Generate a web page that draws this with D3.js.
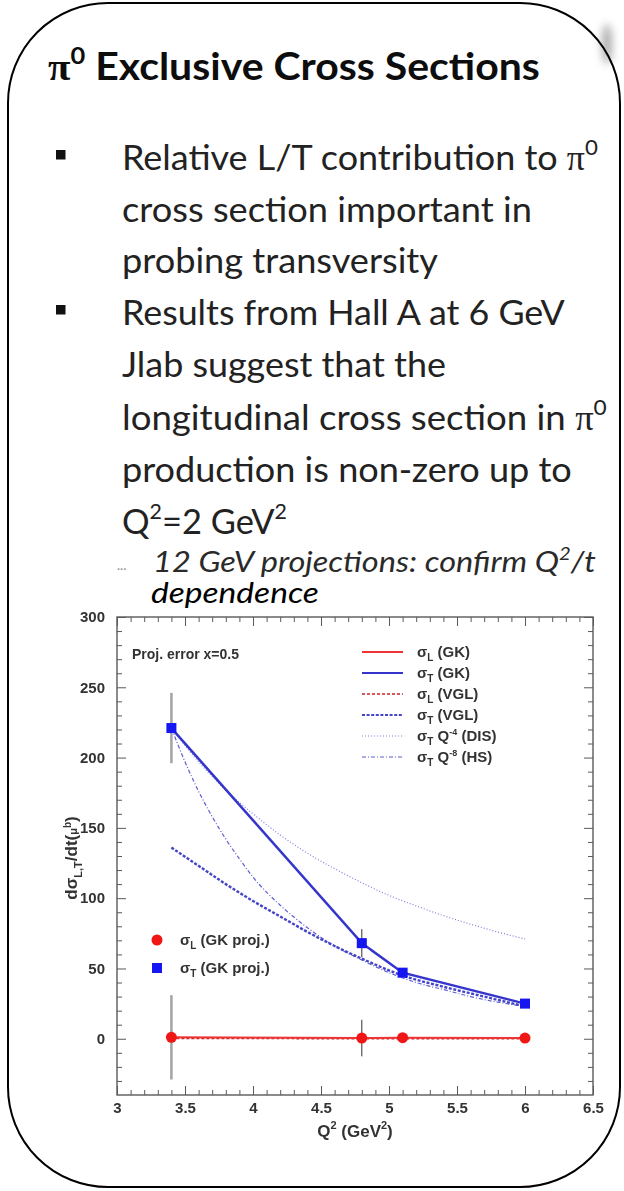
<!DOCTYPE html>
<html>
<head>
<meta charset="utf-8">
<script src="https://cdn.jsdelivr.net/npm/d3@7"></script>
<style>
  html, body { margin: 0; padding: 0; background: #fff; }
  svg { display: block; }
</style>
</head>
<body>
<svg id="slide" width="624" height="1191"></svg>
<script>
// ---------------- slide text ----------------
const titleText = "π^{0} Exclusive Cross Sections";
const bullet1Lines = ["Relative L/T contribution to π^{0}", "cross section important in", "probing transversity"];
const bullet2Lines = ["Results from Hall A at 6 GeV", "Jlab suggest that the", "longitudinal cross section in π^{0}",
                      "production is non-zero up to", "Q^{2}=2 GeV^{2}"];
const noteLines = ["12 GeV projections: confirm Q^{2}/t", "dependence"];

// ---------------- chart data ----------------
// GK projections at x = 0.5
const q2Proj = [3.4, 4.8, 5.1, 6.0];
const sigTProj = [221, 68, 47, 25];
const sigTProjErr = [25, 10, 1.5, 1.5];
const sigLProj = [1.0, 0.5, 0.8, 0.5];
const sigLProjErr = [30, 13, 1, 1];

// VGL model curves
const q2Vgl = [3.4, 3.6, 3.8, 4.0, 4.2, 4.4, 4.6, 4.8, 5.1, 5.4, 5.7, 6.0];
const sigTVgl = [136, 123, 110, 98, 87, 76, 66, 57, 45, 37, 30, 23];
const q2VglL = [3.4, 4.8, 5.1, 6.0];
const sigLVgl = [0.2, 0.1, 0.1, 0.1];

// sigma_T scaled as Q^-4 (DIS)
const q2Dis = [3.4, 3.6, 3.8, 4.0, 4.2, 4.4, 4.6, 4.8, 5.0, 5.2, 5.4, 5.6, 5.8, 6.0];
const sigTDis = [221, 197, 177, 160, 145, 132, 121, 111, 102, 94.5, 87.6, 81.5, 75.9, 71];

// sigma_T scaled as Q^-8 (HS)
const q2Hs = [3.4, 3.5, 3.6, 3.7, 3.8, 3.9, 4.0, 4.2, 4.4, 4.6, 4.8, 5.0, 5.2, 5.4, 5.6, 5.8, 6.0];
const sigTHs = [221, 197, 176, 158, 142, 128, 115, 95, 79, 66, 56, 47, 40, 35, 30, 26, 23];

// axes
const xTickValues = [3, 3.5, 4, 4.5, 5, 5.5, 6, 6.5];
const xTickLabels = ["3", "3.5", "4", "4.5", "5", "5.5", "6", "6.5"];
const yTickValues = [0, 50, 100, 150, 200, 250, 300];
const yTickLabels = ["0", "50", "100", "150", "200", "250", "300"];

// legends
const curveLegendSub = ["L", "T", "L", "T", "T", "T"];
const curveLegendPower = ["", "", "", "", "-4", "-8"];
const curveLegendTag = ["(GK)", "(GK)", "(VGL)", "(VGL)", "(DIS)", "(HS)"];
const projLegendSub = ["L", "T"];
const projLegendTag = ["(GK proj.)", "(GK proj.)"];

// ---------------- drawing ----------------
const svg = d3.select("#slide");
const defs = svg.append("defs");
defs.append("filter").attr("id", "smudge").attr("x", "-3").attr("y", "-3").attr("width", "7").attr("height", "7")
  .append("feGaussianBlur").attr("stdDeviation", 4);
defs.append("filter").attr("id", "soft")
  .append("feGaussianBlur").attr("stdDeviation", 0.45);

svg.append("rect").attr("width", 624).attr("height", 1191).attr("fill", "#fff");

// slide frame with its shadow smear
svg.append("ellipse").attr("cx", 607).attr("cy", 44).attr("rx", 5).attr("ry", 20)
  .attr("fill", "#555").attr("opacity", 0.5).attr("filter", "url(#smudge)");
svg.append("rect").attr("x", 8).attr("y", 3).attr("width", 612).attr("height", 1184)
  .attr("rx", 100).attr("ry", 100).attr("fill", "none").attr("stroke", "#000").attr("stroke-width", 2);

const SANS = "Lato, 'Open Sans', sans-serif";
const SERIF = "'Liberation Serif', 'DejaVu Serif', serif";

// text with ^{..} superscripts and a serif pi; stretched to a given width
function richLine(parent, str, opt) {
  const t = parent.append("text")
    .attr("font-family", SANS)
    .attr("font-size", opt.size)
    .attr("font-weight", opt.weight || "normal")
    .attr("font-style", opt.italic ? "italic" : "normal")
    .attr("fill", opt.color || "#222");
  const parts = str.split(/(\^\{[^}]*\})/).filter(s => s.length);
  const lift = opt.size * 0.42;
  let raised = false;
  parts.forEach(p => {
    if (p.startsWith("^{")) {
      t.append("tspan").attr("font-size", opt.size * 0.62).attr("dy", -lift).text(p.slice(2, -1));
      raised = true;
    } else {
      p.split(/(π)/).filter(s => s.length).forEach(q => {
        const sp = t.append("tspan").text(q);
        if (q === "π") sp.attr("font-family", SERIF).attr("font-style", "normal");
        if (raised) { sp.attr("dy", lift); raised = false; }
      });
    }
  });
  const w = t.node().getComputedTextLength();
  const sx = opt.width ? opt.width / w : 1;
  t.attr("transform", `translate(${opt.x},${opt.y}) scale(${sx},1)`);
  return t;
}

const textLayer = svg.append("g");
richLine(textLayer, titleText, { x: 48, y: 80, width: 492, size: 38, weight: "bold", color: "#0d0d0d" });

const b1Base = [170, 222, 273], b1Right = [598, 532, 438];
bullet1Lines.forEach((s, i) => richLine(textLayer, s, { x: 122, y: b1Base[i], width: b1Right[i] - 122, size: 35 }));
const b2Base = [325, 377, 430, 482, 534], b2Right = [565, 446, 607, 572, 287];
bullet2Lines.forEach((s, i) => richLine(textLayer, s, { x: 122, y: b2Base[i], width: b2Right[i] - 122, size: 35 }));

[b1Base[0], b2Base[0]].forEach(base => textLayer.append("rect").attr("x", 56).attr("y", base - 20)
  .attr("width", 9.5).attr("height", 9.5).attr("fill", "#111"));

const nBase = [572, 603], nLeft = [153, 151], nRight = [596, 319];
noteLines.forEach((s, i) => richLine(textLayer, s, { x: nLeft[i], y: nBase[i], width: nRight[i] - nLeft[i],
  size: 28, italic: true, color: i === 0 ? "#2a2a2a" : "#000" }));
textLayer.append("text").attr("x", 117).attr("y", 570).attr("font-size", 13).attr("fill", "#888")
  .attr("font-family", SANS).text("...");

// ---------------- chart ----------------
const x = d3.scaleLinear().domain([3, 6.5]).range([117, 593]);
const y = d3.scaleLinear().domain([-40, 300]).range([1095, 617]);
const chart = svg.append("g").attr("filter", "url(#soft)");
const AX = "#5a5a5a";
const AXFONT = "bold 15px 'Liberation Sans', Arial, sans-serif";

function styleAxis(g) {
  g.select(".domain").remove();
  g.selectAll("line").attr("stroke", AX).attr("stroke-width", 1);
  g.selectAll("text").attr("fill", "#333").style("font", AXFONT);
}
const yMinor = d3.range(-30, 300, 10).filter(v => v % 50 !== 0);
const xMinor = d3.range(31, 65).map(v => v / 10).filter(v => Math.round(v * 10) % 5 !== 0);

chart.append("g").attr("transform", "translate(117,0)")
  .call(d3.axisLeft(y).tickValues(yTickValues).tickFormat((d, i) => yTickLabels[i]).tickSize(-9).tickPadding(12)).call(styleAxis);
chart.append("g").attr("transform", "translate(117,0)")
  .call(d3.axisLeft(y).tickValues(yMinor).tickFormat(() => "").tickSize(-5)).call(styleAxis);
chart.append("g").attr("transform", "translate(593,0)")
  .call(d3.axisRight(y).tickValues(yTickValues).tickFormat(() => "").tickSize(-9)).call(styleAxis);
chart.append("g").attr("transform", "translate(593,0)")
  .call(d3.axisRight(y).tickValues(yMinor).tickFormat(() => "").tickSize(-5)).call(styleAxis);
chart.append("g").attr("transform", "translate(0,1095)")
  .call(d3.axisBottom(x).tickValues(xTickValues).tickFormat((d, i) => xTickLabels[i]).tickSize(-9).tickPadding(7)).call(styleAxis);
chart.append("g").attr("transform", "translate(0,1095)")
  .call(d3.axisBottom(x).tickValues(xMinor).tickFormat(() => "").tickSize(-5)).call(styleAxis);
chart.append("g").attr("transform", "translate(0,617)")
  .call(d3.axisTop(x).tickValues(xTickValues).tickFormat(() => "").tickSize(-9)).call(styleAxis);
chart.append("g").attr("transform", "translate(0,617)")
  .call(d3.axisTop(x).tickValues(xMinor).tickFormat(() => "").tickSize(-5)).call(styleAxis);

chart.append("rect").attr("x", x(3)).attr("y", y(300)).attr("width", x(6.5) - x(3)).attr("height", y(-40) - y(300))
  .attr("fill", "none").attr("stroke", AX).attr("stroke-width", 1.4);

// axis titles
const xt = chart.append("text").attr("x", 355).attr("y", 1137).attr("text-anchor", "middle")
  .attr("fill", "#333").style("font", "bold 17px 'Liberation Sans', Arial, sans-serif");
xt.append("tspan").text("Q");
xt.append("tspan").attr("font-size", 11).attr("dy", -8).text("2");
xt.append("tspan").attr("dy", 8).text(" (GeV");
xt.append("tspan").attr("font-size", 11).attr("dy", -8).text("2");
xt.append("tspan").attr("dy", 8).text(")");

const yt = chart.append("text").attr("transform", "translate(77,858) rotate(-90)").attr("text-anchor", "middle")
  .attr("fill", "#333").style("font", "bold 17px 'Liberation Sans', Arial, sans-serif");
yt.append("tspan").text("dσ");
yt.append("tspan").attr("font-size", 11).attr("dy", 5).text("L,T");
yt.append("tspan").attr("dy", -5).text("/dt(");
yt.append("tspan").attr("font-size", 11).text("μ");
yt.append("tspan").attr("font-size", 10).attr("dy", -6).text("b");
yt.append("tspan").attr("dy", 6).text(")");

chart.append("text").attr("x", 132).attr("y", 659).attr("fill", "#333")
  .style("font", "bold 14px 'Liberation Sans', Arial, sans-serif").text("Proj. error x=0.5");

// curve styles
const BLUE = "#3535cc", RED = "#ee3535";
const curveStyles = [
  { c: RED, w: 2, d: null },
  { c: BLUE, w: 2.5, d: null },
  { c: "#cc2020", w: 1.6, d: "3,2" },
  { c: "#4545c8", w: 2.4, d: "3,1.6" },
  { c: "#8080dd", w: 1.2, d: "1,2" },
  { c: "#5f5fd0", w: 1.2, d: "4,2,1,2" }
];

const smooth = d3.line().x(d => x(d[0])).y(d => y(d[1])).curve(d3.curveMonotoneX);
const straight = d3.line().x(d => x(d[0])).y(d => y(d[1]));
const zip = (a, b) => a.map((v, i) => [v, b[i]]);

function drawCurve(pts, gen, st) {
  chart.append("path").attr("d", gen(pts)).attr("fill", "none")
    .attr("stroke", st.c).attr("stroke-width", st.w).attr("stroke-dasharray", st.d);
}
drawCurve(zip(q2Dis, sigTDis), smooth, curveStyles[4]);
drawCurve(zip(q2Hs, sigTHs), smooth, curveStyles[5]);
drawCurve(zip(q2Vgl, sigTVgl), smooth, curveStyles[3]);
drawCurve(zip(q2VglL, sigLVgl), straight, curveStyles[2]);
drawCurve(zip(q2Proj, sigLProj), straight, curveStyles[0]);
drawCurve(zip(q2Proj, sigTProj), straight, curveStyles[1]);

// error bars
function errBars(vals, errs) {
  q2Proj.forEach((q, i) => {
    chart.append("line").attr("x1", x(q)).attr("x2", x(q))
      .attr("y1", y(vals[i] - errs[i])).attr("y2", y(vals[i] + errs[i]))
      .attr("stroke", i === 0 ? "#a3a3a3" : "#333").attr("stroke-width", i === 0 ? 2.5 : 1);
  });
}
errBars(sigTProj, sigTProjErr);
errBars(sigLProj, sigLProjErr);

// markers
chart.selectAll(".mL").data(zip(q2Proj, sigLProj)).join("circle")
  .attr("cx", d => x(d[0])).attr("cy", d => y(d[1])).attr("r", 5.5).attr("fill", "#f01515");
chart.selectAll(".mT").data(zip(q2Proj, sigTProj)).join("rect")
  .attr("x", d => x(d[0]) - 5).attr("y", d => y(d[1]) - 5).attr("width", 10).attr("height", 10).attr("fill", "#1212f0");

// curve legend
const LEGFONT = "bold 15px 'Liberation Sans', Arial, sans-serif";
curveLegendTag.forEach((tag, i) => {
  const cy = 652 + i * 21;
  const st = curveStyles[i];
  chart.append("line").attr("x1", 362).attr("x2", 403).attr("y1", cy).attr("y2", cy)
    .attr("stroke", st.c).attr("stroke-width", Math.min(st.w, 2)).attr("stroke-dasharray", st.d);
  const t = chart.append("text").attr("x", 417).attr("y", cy + 5).attr("fill", "#333").style("font", LEGFONT);
  t.append("tspan").text("σ");
  t.append("tspan").attr("font-size", 10).attr("dy", 4).text(curveLegendSub[i]);
  if (curveLegendPower[i]) {
    t.append("tspan").attr("dy", -4).text(" Q");
    t.append("tspan").attr("font-size", 9).attr("dy", -6).text(curveLegendPower[i]);
    t.append("tspan").attr("dy", 6).text(" " + tag);
  } else {
    t.append("tspan").attr("dy", -4).text(" " + tag);
  }
});

// projection legend
projLegendTag.forEach((tag, i) => {
  const cy = 940 + i * 28;
  if (i === 0) chart.append("circle").attr("cx", 157).attr("cy", cy).attr("r", 5.5).attr("fill", "#f01515");
  else chart.append("rect").attr("x", 152).attr("y", cy - 5).attr("width", 10).attr("height", 10).attr("fill", "#1212f0");
  const t = chart.append("text").attr("x", 180).attr("y", cy + 5).attr("fill", "#333").style("font", LEGFONT);
  t.append("tspan").text("σ");
  t.append("tspan").attr("font-size", 10).attr("dy", 4).text(projLegendSub[i]);
  t.append("tspan").attr("dy", -4).text(" " + tag);
});
</script>
</body>
</html>
